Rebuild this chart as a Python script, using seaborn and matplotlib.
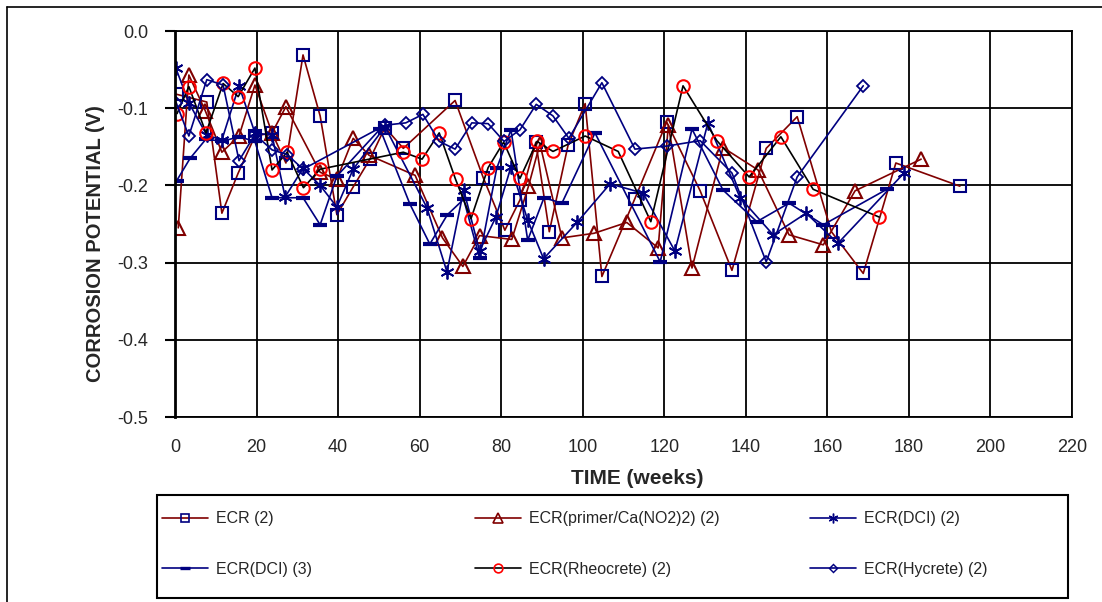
import matplotlib
matplotlib.use("Agg")
import matplotlib.pyplot as plt
from matplotlib.lines import Line2D
from matplotlib.patches import Rectangle
import pandas as pd
import seaborn as sns

# =============================================================================
# DATA
# =============================================================================

ecr2_wk = [0.4, 7.8, 11.5, 15.5, 19.6, 23.8, 27.2, 31.4, 35.6, 39.7, 43.7, 47.8, 51.5, 56.0,
           68.7, 75.6, 80.9, 84.6, 88.5, 91.8, 96.4, 100.6, 104.7, 112.8, 120.6, 128.8, 136.6,
           145.0, 152.6, 161.0, 168.8, 176.8, 192.5]
ecr2_v = [-0.082, -0.092, -0.236, -0.184, -0.136, -0.132, -0.171, -0.031, -0.110, -0.238, -0.202,
          -0.166, -0.125, -0.152, -0.090, -0.190, -0.258, -0.219, -0.144, -0.260, -0.148, -0.094,
          -0.318, -0.217, -0.118, -0.207, -0.310, -0.152, -0.111, -0.260, -0.314, -0.171, -0.201]

primer_wk = [0.8, 3.4, 7.4, 11.5, 15.7, 19.6, 23.8, 27.2, 35.6, 39.7, 43.7, 47.6, 58.9, 65.6,
             70.6, 74.7, 82.6, 86.7, 89.5, 94.9, 102.8, 110.8, 118.5, 121.0, 126.8, 134.4, 143.0,
             150.6, 159.0, 166.8, 183.0]
primer_v = [-0.255, -0.057, -0.103, -0.157, -0.136, -0.070, -0.132, -0.098, -0.183, -0.192, -0.139,
            -0.161, -0.187, -0.268, -0.305, -0.265, -0.270, -0.201, -0.146, -0.268, -0.262, -0.248,
            -0.281, -0.122, -0.307, -0.151, -0.180, -0.264, -0.277, -0.207, -0.166]

dci2_wk = [0.2, 3.4, 7.8, 11.5, 15.7, 19.6, 23.8, 27.0, 31.4, 35.6, 39.7, 43.7, 51.5, 61.8, 66.7,
           70.8, 74.7, 78.7, 82.4, 86.5, 90.4, 98.6, 106.7, 114.8, 122.6, 130.7, 138.6, 146.7,
           154.8, 162.6, 178.8]
dci2_v = [-0.048, -0.093, -0.135, -0.141, -0.071, -0.132, -0.135, -0.215, -0.178, -0.200, -0.228,
          -0.179, -0.124, -0.229, -0.312, -0.206, -0.285, -0.241, -0.176, -0.245, -0.295, -0.248,
          -0.198, -0.210, -0.285, -0.119, -0.216, -0.264, -0.236, -0.275, -0.184]

dci3_wk = [0.4, 3.7, 7.6, 11.5, 15.7, 19.6, 23.8, 31.4, 35.6, 39.7, 50.3, 57.6, 62.5, 66.8, 70.8,
           74.7, 78.9, 82.4, 86.5, 90.5, 94.9, 103.0, 119.0, 126.8, 134.4, 142.7, 150.6, 159.0,
           174.6]
dci3_v = [-0.194, -0.165, -0.140, -0.143, -0.137, -0.143, -0.216, -0.216, -0.251, -0.188, -0.127,
          -0.224, -0.276, -0.238, -0.218, -0.294, -0.178, -0.128, -0.271, -0.216, -0.223, -0.132,
          -0.299, -0.127, -0.206, -0.247, -0.223, -0.251, -0.205]

rheo_wk = [0.5, 3.4, 7.6, 11.8, 15.5, 19.6, 23.8, 27.5, 31.5, 35.6, 56.0, 60.6, 64.8, 68.8, 72.6,
           76.8, 80.6, 84.6, 88.8, 92.7, 100.6, 108.7, 116.7, 124.6, 132.9, 140.8, 148.6, 156.5,
           172.7]
rheo_v = [-0.107, -0.072, -0.132, -0.068, -0.085, -0.048, -0.180, -0.157, -0.203, -0.179, -0.157,
          -0.166, -0.132, -0.192, -0.243, -0.177, -0.144, -0.191, -0.143, -0.156, -0.136, -0.156,
          -0.247, -0.071, -0.142, -0.189, -0.137, -0.205, -0.241]

hyc_wk = [0.3, 3.4, 7.8, 11.8, 15.7, 19.6, 23.8, 27.5, 31.4, 51.5, 56.6, 60.8, 64.8, 68.7, 72.8,
          76.8, 80.7, 84.6, 88.6, 92.7, 96.6, 104.7, 112.8, 120.7, 128.8, 136.6, 145.0, 152.6,
          168.8]
hyc_v = [-0.093, -0.136, -0.063, -0.070, -0.168, -0.134, -0.154, -0.160, -0.179, -0.122, -0.119,
         -0.108, -0.143, -0.153, -0.119, -0.120, -0.143, -0.128, -0.095, -0.110, -0.139, -0.067,
         -0.153, -0.149, -0.142, -0.184, -0.299, -0.189, -0.071]

x_ticks = list(range(0, 221, 20))
y_ticks = [0.0, -0.1, -0.2, -0.3, -0.4, -0.5]

# =============================================================================
# STYLE
# =============================================================================

NAVY = "#000080"
DARKRED = "#800000"
RED = "#FF0000"

sns.set_theme(style="white")
plt.rcParams["font.family"] = ["Liberation Sans", "DejaVu Sans"]

W, H = 1102, 602
fig = plt.figure(figsize=(W / 100, H / 100), dpi=100)
ax = fig.add_axes([175 / W, 1 - 417 / H, (1072 - 175) / W, (417 - 31) / H])

# (weeks, values, label, line colour, marker, marker colour, marker size, edge width)
series = {
    "ecr2": (ecr2_wk, ecr2_v, "ECR (2)", DARKRED, "s", NAVY, 9, 1.5),
    "primer": (primer_wk, primer_v, "ECR(primer/Ca(NO2)2) (2)", DARKRED, "^", DARKRED, 10, 1.5),
    "dci2": (dci2_wk, dci2_v, "ECR(DCI) (2)", NAVY, (6, 2, 0), NAVY, 10, 1.3),
    "dci3": (dci3_wk, dci3_v, "ECR(DCI) (3)", NAVY, "_", NAVY, 10, 3.0),
    "rheo": (rheo_wk, rheo_v, "ECR(Rheocrete) (2)", "black", "o", RED, 9, 1.5),
    "hyc": (hyc_wk, hyc_v, "ECR(Hycrete) (2)", NAVY, "D", NAVY, 6.5, 1.3),
}

for wk, v, nom, c_ligne, mk, c_mk, ms, mew in series.values():
    df = pd.DataFrame({"semaine": wk, "potentiel": v})
    sns.lineplot(data=df, x="semaine", y="potentiel", ax=ax, estimator=None, sort=False,
                 color=c_ligne, linewidth=1.2, marker=mk, markersize=ms,
                 markerfacecolor="none", markeredgecolor=c_mk, markeredgewidth=mew,
                 legend=False)

ax.set_xlim(0, 220)
ax.set_ylim(-0.5, 0.0)
ax.set_xticks(x_ticks)
ax.set_yticks(y_ticks)
ax.set_yticklabels([f"{t:.1f}" for t in y_ticks])
ax.grid(True, color="black", linewidth=1.3)
ax.set_axisbelow(True)
for s in ax.spines.values():
    s.set_color("black")
    s.set_linewidth(1.3)
ax.spines["left"].set_linewidth(2)
ax.tick_params(axis="x", length=0, pad=16, labelsize=13)
ax.tick_params(axis="y", length=7, width=1.5, color="black", direction="out", pad=12,
               labelsize=13, left=True)

ax.set_xlabel("TIME (weeks)", fontsize=15, fontweight="bold")
ax.set_ylabel("CORROSION POTENTIAL (V)", fontsize=14.5, fontweight="bold")
ax.xaxis.set_label_coords(0.515, -0.135)
ax.yaxis.set_label_coords(-0.078, 0.45)

# =============================================================================
# LEGEND: three columns, two rows, in a box under the plot
# =============================================================================

def poignee(cle):
    wk, v, nom, c_ligne, mk, c_mk, ms, mew = series[cle]
    return Line2D([], [], color=c_ligne, linewidth=1.2, marker=mk, markersize=ms * 0.7,
                  markerfacecolor="none", markeredgecolor=c_mk, markeredgewidth=mew * 0.8), nom

colonnes = [(162, ["ecr2", "dci3"]), (475, ["primer", "rheo"]), (810, ["dci2", "hyc"])]
for x_col, cles in colonnes:
    hs, ls = zip(*[poignee(c) for c in cles])
    fig.legend(hs, ls, loc="center left", bbox_to_anchor=(x_col / W, 1 - 544 / H),
               frameon=False, fontsize=11.5,
               handlelength=2.9, handletextpad=0.5, labelspacing=2.2,
               borderpad=0, borderaxespad=0)

fig.patches.append(Rectangle((157 / W, 1 - 598 / H), (1068 - 157) / W, (598 - 495) / H,
                             transform=fig.transFigure, fill=False,
                             edgecolor="black", linewidth=1.5))

# Cadre extérieur (gauche et haut)
fig.lines.append(Line2D([7 / W, 7 / W], [0, 1 - 7 / H], transform=fig.transFigure,
                        color="black", linewidth=1.2))
fig.lines.append(Line2D([7 / W, 1], [1 - 7 / H, 1 - 7 / H], transform=fig.transFigure,
                        color="black", linewidth=1.2))

plt.savefig("out.png", dpi=100)
